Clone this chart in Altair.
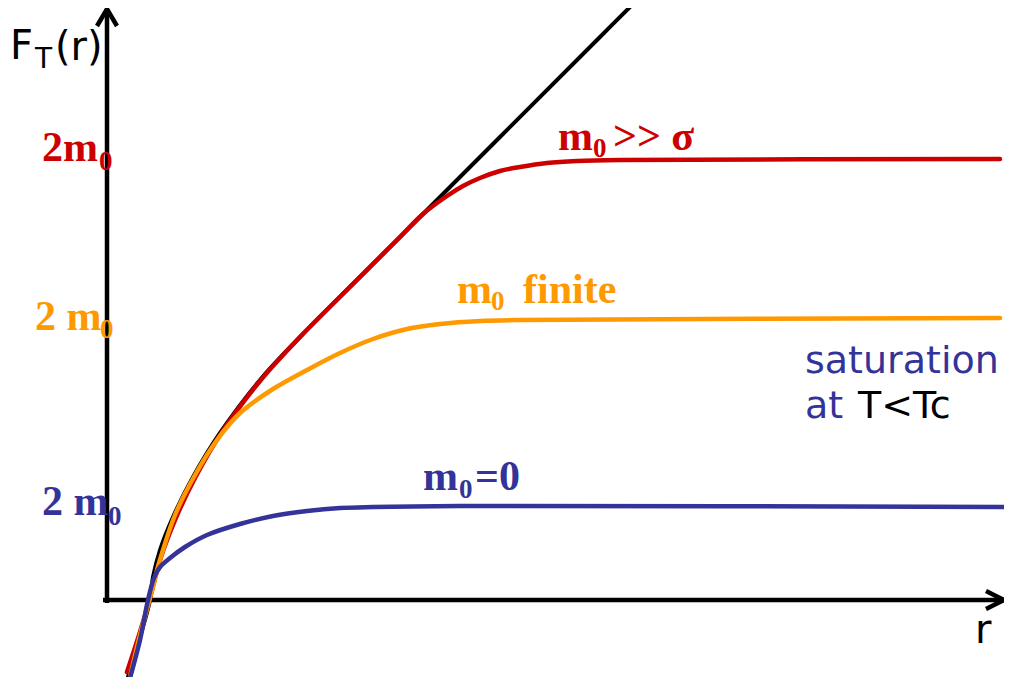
import altair as alt
import pandas as pd

# ---- curve data (schematic units: r along x, F_T(r) along y) ----
black_r = [0.23, 0.35, 0.45, 0.48, 0.55, 0.68, 0.88, 1.15, 1.55, 1.95, 2.95, 3.95, 4.95, 5.32]
black_F = [-0.77, -0.37, 0.00, 0.23, 0.50, 0.83, 1.23, 1.67, 2.20, 2.63, 3.63, 4.63, 5.63, 6.00]

red_r = [0.22, 0.35, 0.45, 0.55, 0.70, 0.90, 1.15, 1.55, 1.95, 2.45, 2.95, 3.18, 3.42, 3.58, 3.75, 3.95, 4.15, 4.42, 4.72, 5.15, 8.95]
red_F = [-0.72, -0.32, 0.02, 0.40, 0.80, 1.22, 1.65, 2.19, 2.63, 3.13, 3.63, 3.86, 4.04, 4.14, 4.22, 4.29, 4.33, 4.37, 4.39, 4.40, 4.41]

orange_r = [0.25, 0.35, 0.45, 0.55, 0.70, 0.90, 1.12, 1.35, 1.68, 2.02, 2.35, 2.68, 3.02, 3.35, 3.75, 4.15, 8.95]
orange_F = [-0.77, -0.35, 0.02, 0.40, 0.85, 1.25, 1.60, 1.87, 2.11, 2.30, 2.47, 2.61, 2.71, 2.76, 2.79, 2.80, 2.82]

blue_r = [0.25, 0.35, 0.43, 0.49, 0.55, 0.65, 0.80, 1.02, 1.35, 1.68, 2.02, 2.35, 2.68, 3.55, 9.05]
blue_F = [-0.78, -0.40, 0.00, 0.22, 0.33, 0.42, 0.53, 0.65, 0.76, 0.84, 0.89, 0.92, 0.93, 0.94, 0.93]

RED = "#cc0000"
ORANGE = "#ff9900"
BLUE = "#333399"
BLACK = "#000000"

x_scale = alt.Scale(domain=[-0.97, 8.99], nice=False, zero=False)
y_scale = alt.Scale(domain=[-0.77, 5.92], nice=False, zero=False)


def curve(rs, fs, color, width):
    df = pd.DataFrame({"r": rs, "F": fs, "i": list(range(len(rs)))})
    return alt.Chart(df).mark_line(
        color=color, strokeWidth=width, interpolate="catmull-rom", clip=True, strokeCap="round"
    ).encode(
        x=alt.X("r:Q", scale=x_scale, axis=None),
        y=alt.Y("F:Q", scale=y_scale, axis=None),
        order="i:O",
    )


# ---- axes with arrow heads (polylines) ----
axis_r = [0.02, 0.02, -0.02, 8.99, -0.08, 0.02, 0.12, 8.81, 8.99, 8.81]
axis_F = [-0.03, 5.91, 0.00, 0.00, 5.74, 5.91, 5.74, 0.09, 0.00, -0.09]
axis_g = ["y", "y", "x", "x", "ya", "ya", "ya", "xa", "xa", "xa"]
axis_df = pd.DataFrame({"r": axis_r, "F": axis_F, "g": axis_g, "i": list(range(len(axis_r)))})
axes = alt.Chart(axis_df).mark_line(
    color=BLACK, strokeWidth=4.5, strokeJoin="miter", clip=False
).encode(
    x=alt.X("r:Q", scale=x_scale, axis=None),
    y=alt.Y("F:Q", scale=y_scale, axis=None),
    detail="g:N",
    order="i:O",
)

# ---- annotations: (text, r, F, size, color, font, weight) ----
SERIF = "Liberation Serif"
SANS = "DejaVu Sans"
labels = [
    ("F", -0.95, 5.41, 40, BLACK, SANS, "normal"),
    ("T", -0.70, 5.32, 28, BLACK, SANS, "normal"),
    ("(r)", -0.50, 5.40, 40, BLACK, SANS, "normal"),
    ("2m", -0.63, 4.39, 42, RED, SERIF, "bold"),
    ("0", -0.06, 4.30, 27, RED, SERIF, "bold"),
    ("2 m", -0.70, 2.70, 42, ORANGE, SERIF, "bold"),
    ("0", -0.05, 2.62, 27, ORANGE, SERIF, "bold"),
    ("2 m", -0.63, 0.85, 42, BLUE, SERIF, "bold"),
    ("0", 0.03, 0.75, 27, BLUE, SERIF, "bold"),
    ("m", 4.53, 4.50, 42, RED, SERIF, "bold"),
    ("0", 4.88, 4.43, 27, RED, SERIF, "bold"),
    (">> σ", 5.08, 4.50, 42, RED, SERIF, "bold"),
    ("m", 3.52, 2.97, 42, ORANGE, SERIF, "bold"),
    ("0", 3.86, 2.90, 27, ORANGE, SERIF, "bold"),
    ("finite", 4.18, 2.97, 42, ORANGE, SERIF, "bold"),
    ("m", 3.18, 1.10, 42, BLUE, SERIF, "bold"),
    ("0", 3.54, 1.02, 27, BLUE, SERIF, "bold"),
    ("=0", 3.70, 1.10, 42, BLUE, SERIF, "bold"),
    ("saturation", 7.00, 2.27, 38, BLUE, SANS, "normal"),
    ("at", 7.00, 1.82, 38, BLUE, SANS, "normal"),
    ("T<Tc", 7.53, 1.82, 38, BLACK, SANS, "normal"),
    ("r", 8.70, -0.43, 40, BLACK, SANS, "normal"),
]

text_layers = []
for txt, rx, fy, size, color, font, weight in labels:
    df = pd.DataFrame({"r": [rx], "F": [fy], "t": [txt]})
    text_layers.append(
        alt.Chart(df).mark_text(
            align="left", baseline="alphabetic", fontSize=size, color=color,
            font=font, fontWeight=weight,
        ).encode(
            x=alt.X("r:Q", scale=x_scale, axis=None),
            y=alt.Y("F:Q", scale=y_scale, axis=None),
            text="t:N",
        )
    )

chart = alt.layer(
    axes,
    curve(black_r, black_F, BLACK, 4),
    curve(red_r, red_F, RED, 4.5),
    curve(orange_r, orange_F, ORANGE, 4.5),
    curve(blue_r, blue_F, BLUE, 4.5),
    *text_layers,
).properties(
    width=996, height=669, padding=0,
    autosize=alt.AutoSizeParams(type="none"),
).configure_view(stroke="transparent")

chart.save("out.html", embed_options={"renderer": "svg", "actions": False})
